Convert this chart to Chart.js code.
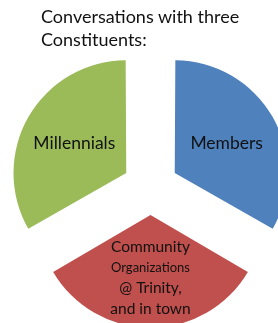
<!DOCTYPE html>
<html>
<head>
<meta charset="utf-8">
<script src="https://cdn.jsdelivr.net/npm/chart.js@4/dist/chart.umd.min.js"></script>
<style>
  body { margin: 0; background: #fff; }
  #wrap { position: relative; width: 278px; height: 323px; overflow: hidden; }
  #title { position: absolute; left: 41px; top: 5px; font: 18px Lato, sans-serif; line-height: 23px; color: #111; }
</style>
</head>
<body>
<div id="wrap">
  <canvas id="pie" width="278" height="323"></canvas>
  <div id="title">Conversations with three<br>Constituents:</div>
</div>
<script>
// three constituents, equal share each
var categories = ["Members", "Community Organizations @ Trinity, and in town", "Millennials"];
var values = [1, 1, 1];
var sliceLines = [["Members"], ["Community", "Organizations", "@ Trinity,", "and in town"], ["Millennials"]];
var colors = ["#4F81BD", "#C0504D", "#9BBB59"];

// write the label text inside each exploded slice
var sliceText = {
  id: "sliceText",
  afterDatasetsDraw: function(chart){
    var ctx = chart.ctx;
    var arcs = chart.getDatasetMeta(0).data;
    ctx.save();
    ctx.fillStyle = "#111";
    ctx.textAlign = "center";
    ctx.textBaseline = "middle";
    for (var i = 0; i < arcs.length; i++){
      var a = arcs[i];
      var mid = (a.startAngle + a.endAngle) / 2;
      var shift = a.options.offset / 4 + a.outerRadius * 0.55;
      var x = a.x + Math.cos(mid) * shift;
      var y = a.y + Math.sin(mid) * shift;
      var lines = sliceLines[i];
      var lh = 20.7;
      var top = y - (lines.length - 1) * lh / 2 + (lines.length > 1 ? 3 : 0);
      for (var j = 0; j < lines.length; j++){
        var size = lines.length == 1 ? "17.5px" : (lines[j] == "Organizations" ? "13px" : "15.5px");
        ctx.font = size + " Lato, sans-serif";
        ctx.fillText(lines[j], x, top + j * lh);
      }
    }
    ctx.restore();
  }
};

var ctx = document.querySelector("#pie").getContext("2d");
var pieChart = new Chart(ctx, {
  type: "pie",
  data: {
    labels: categories,
    datasets: [{
      data: values,
      backgroundColor: colors,
      borderWidth: 0,
      offset: 112
    }]
  },
  options: {
    responsive: false,
    animation: false,
    devicePixelRatio: 1,
    radius: 109,
    layout: { padding: { left: 23, right: 0, top: 51, bottom: 0 } },
    plugins: {
      legend: { display: false },
      tooltip: { enabled: false },
      title: { display: false }
    }
  },
  plugins: [sliceText]
});
</script>
</body>
</html>
